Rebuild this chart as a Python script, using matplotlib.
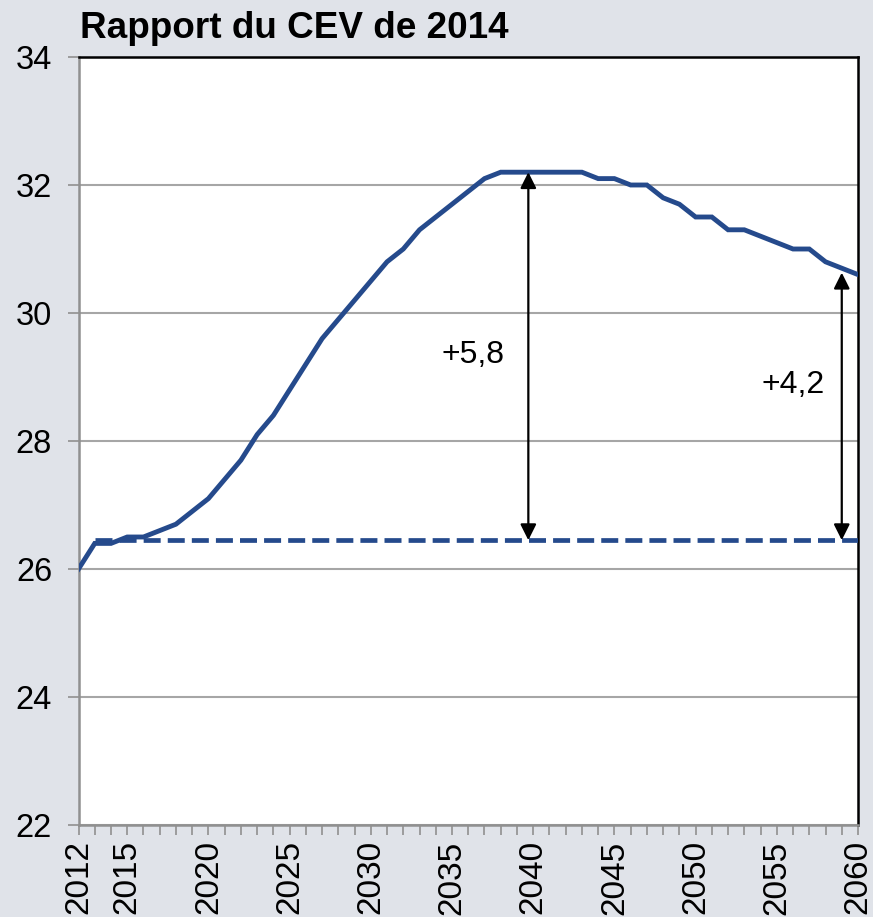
import matplotlib
matplotlib.use("Agg")
import matplotlib.pyplot as plt

plt.rcParams['font.family'] = ['Liberation Sans', 'DejaVu Sans']

years = list(range(2012, 2061))
values = [26.0, 26.4, 26.4, 26.5, 26.5, 26.6, 26.7, 26.9, 27.1, 27.4,
          27.7, 28.1, 28.4, 28.8, 29.2, 29.6, 29.9, 30.2, 30.5, 30.8,
          31.0, 31.3, 31.5, 31.7, 31.9, 32.1, 32.2, 32.2, 32.2, 32.2,
          32.2, 32.2, 32.1, 32.1, 32.0, 32.0, 31.8, 31.7, 31.5, 31.5,
          31.3, 31.3, 31.2, 31.1, 31.0, 31.0, 30.8, 30.7, 30.6]
baseline_value = 26.45
baseline_start = 2013
title = "Rapport du CEV de 2014"
xtick_labels = [2012, 2015, 2020, 2025, 2030, 2035, 2040, 2045, 2050, 2055, 2060]
yticks = [22, 24, 26, 28, 30, 32, 34]
arrows = [(2039.7, 32.2, "+5,8", 2036.3, 29.35),
          (2059.0, 30.63, "+4,2", 2056.0, 28.88)]

bg = '#e0e3e9'
blue = '#254a8c'
grid_c = '#a6a6a6'

fig = plt.figure(figsize=(8.73, 9.17), dpi=100, facecolor=bg)
ax = fig.add_axes([78.5/873, 1 - 825/917, (858 - 78.5)/873, (825 - 57)/917])
ax.set_facecolor('white')

ax.plot(years, values, color=blue, lw=3.5, solid_joinstyle='miter', zorder=3)
ax.plot([baseline_start, years[-1]], [baseline_value, baseline_value], color=blue,
        lw=3.4, dashes=(3.6, 1.5), zorder=3)

for x, ytop, lab, tx, ty in arrows:
    ax.annotate('', xy=(x, ytop), xytext=(x, baseline_value),
                arrowprops=dict(arrowstyle='<|-|>', color='black', lw=1.6,
                                mutation_scale=24, shrinkA=0, shrinkB=0), zorder=4)
    ax.text(tx, ty, lab, fontsize=23, ha='center', va='center', color='black')

ax.set_xlim(2012, 2060)
ax.set_ylim(22, 34)
ax.set_yticks(yticks)
ax.set_yticklabels([str(v) for v in yticks], fontsize=23.5)
ax.set_xticks(years)
ax.set_xticklabels([str(y) if y in xtick_labels else '' for y in years],
                   rotation=90, fontsize=24)
ax.tick_params(axis='x', length=7, width=1.2, color='#909090', pad=4)
ax.tick_params(axis='y', length=8, width=1.2, color='#909090', pad=11)

ax.grid(axis='y', color=grid_c, lw=1.5, zorder=1)
ax.set_axisbelow(True)
for s in ['left', 'bottom']:
    ax.spines[s].set_color('#909090')
    ax.spines[s].set_linewidth(1.8)
for s in ['top', 'right']:
    ax.spines[s].set_color('black')
    ax.spines[s].set_linewidth(1.8)

fig.text(80/873, 1 - 38/917, title, fontsize=26.6, fontweight='bold',
         ha='left', va='baseline')

fig.savefig('out.png', dpi=100, facecolor=bg)
